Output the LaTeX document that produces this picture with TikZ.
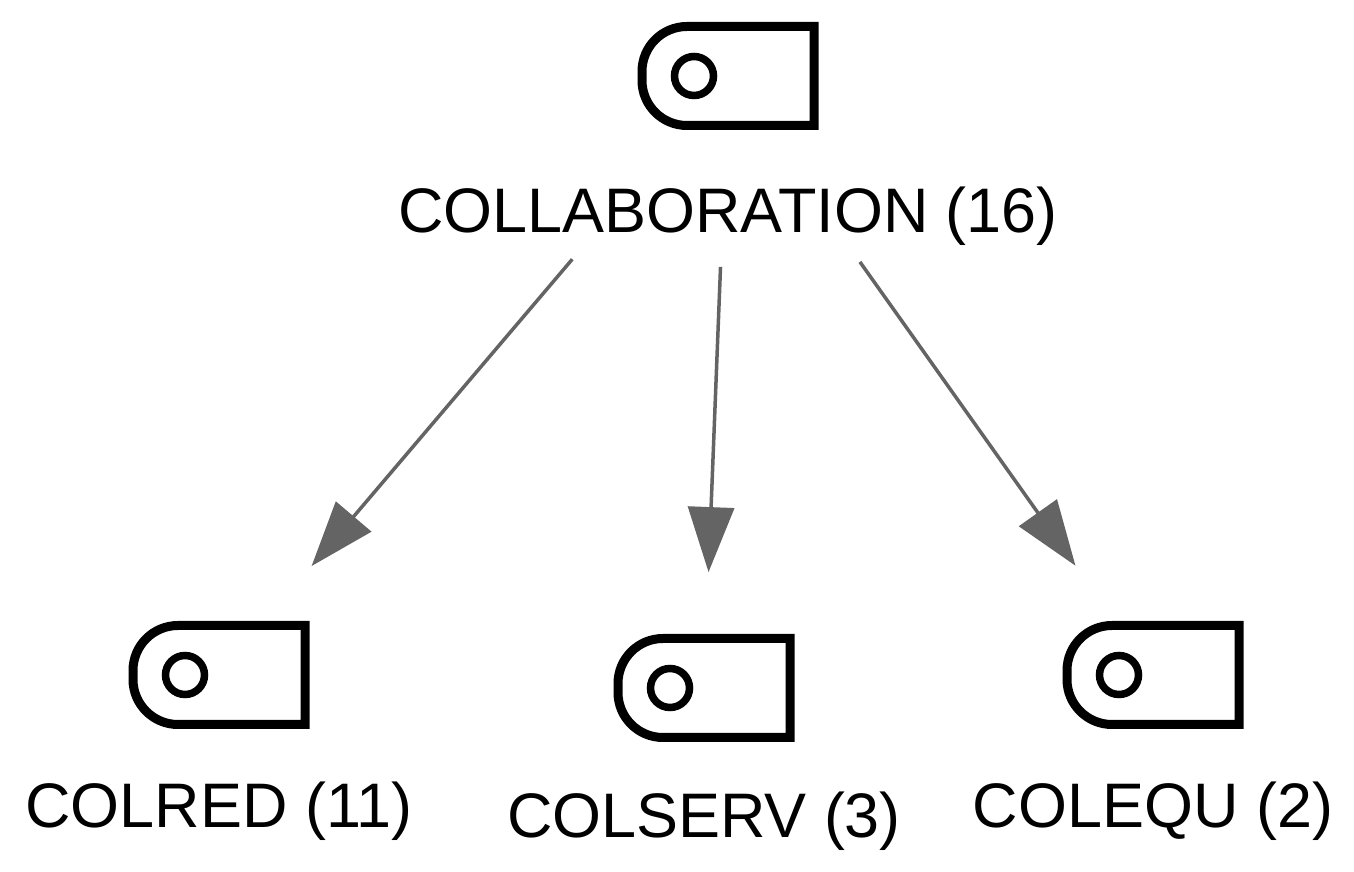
\documentclass[tikz,border=0pt]{standalone}
\usepackage{fontspec}
\setmainfont{Liberation Sans}
\usetikzlibrary{positioning,arrows.meta}
\definecolor{edgegray}{RGB}{100,100,100}

\newcommand{\tagicon}[1]{%
  \draw[iconline] (#1.north east) -- ([xshift=0.9cm]#1.north west)
    arc[start angle=90,end angle=180,radius=0.9cm] -- ([yshift=0.9cm]#1.south west)
    arc[start angle=180,end angle=270,radius=0.9cm] -- (#1.south east) -- cycle;
  \draw[iconline,line width=0.15cm] ([xshift=-0.68cm]#1.center) circle (0.39cm);
}

\begin{document}
\begin{tikzpicture}[tagbox/.style = {minimum width=3.44cm, minimum height=1.98cm, inner sep=0pt, outer sep=0pt},
	iconline/.style = {line width=0.18cm, line join=miter},
	lbl/.style = {font=\fontsize{35.8}{43}\selectfont, inner sep=0pt, anchor=base},
	link/.style = {draw=edgegray, line width=0.07cm, -{Triangle[length=1.3cm,width=0.92cm]}},
	on grid]
			\useasboundingbox (0,0) rectangle (27.08,17.44);

			\node[tagbox] (collab) at (14.56,15.92) {};
			\node[tagbox] (colred) [below left=11.98cm and 10.18cm of collab] {};
			\node[tagbox] (colserv) [below=12.24cm of collab, xshift=-0.48cm] {};
			\node[tagbox] (colequ) [below right=11.98cm and 8.5cm of collab] {};

			\tagicon{collab}
			\tagicon{colred}
			\tagicon{colserv}
			\tagicon{colequ}

			\node (collablbl) [below=3.13cm of collab.center, lbl] {COLLABORATION (16)};
			\node (colredlbl) [below=3.06cm of colred.center, lbl] {COLRED (11)};
			\node (colservlbl) [below=3.0cm of colserv.center, lbl] {COLSERV (3)};
			\node (colequlbl) [below=3.06cm of colequ.center, lbl] {COLEQU (2)};

			\draw[link, shorten <=4.81cm, shorten >=2.86cm] (collab.center) to (colred.center);
			\draw[link, shorten <=3.82cm, shorten >=2.32cm] (collab.center) to (colserv.center);
			\draw[link, shorten <=4.56cm, shorten >=2.68cm] (collab.center) to (colequ.center);
		\end{tikzpicture}
\end{document}
